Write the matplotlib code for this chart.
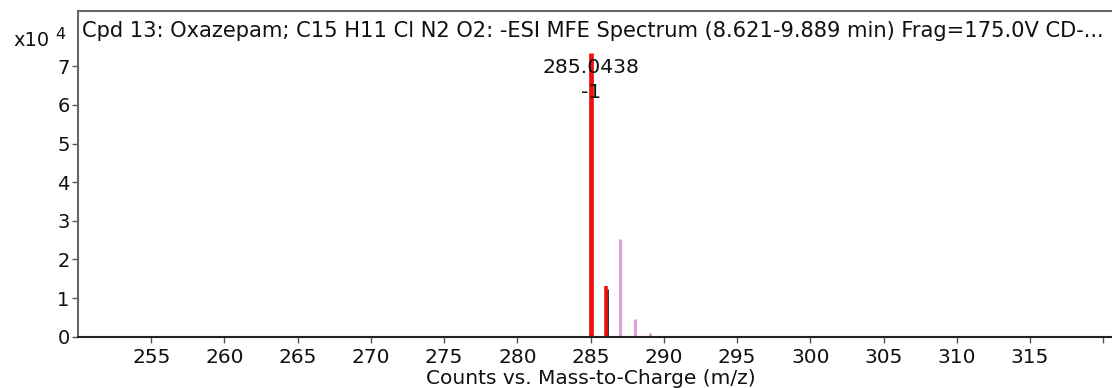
import matplotlib
matplotlib.use("Agg")
import matplotlib.pyplot as plt

# Data (m/z, abundance in units of 1e4)
red_mz = [285.04, 286.04]
red_int = [7.34, 1.30]
black_mz = [286.15]
black_int = [1.23]
pink_mz = [287.03, 288.0, 289.03]
pink_int = [2.53, 0.46, 0.10]

x_ticks = [255, 260, 265, 270, 275, 280, 285, 290, 295, 300, 305, 310, 315, 320]
x_labels = ["255", "260", "265", "270", "275", "280", "285", "290", "295", "300",
            "305", "310", "315", ""]
y_ticks = [0, 1, 2, 3, 4, 5, 6, 7]

title = "Cpd 13: Oxazepam; C15 H11 Cl N2 O2: -ESI MFE Spectrum (8.621-9.889 min) Frag=175.0V CD-..."
peak_label = "285.0438"
peak_charge = "-1"
xlabel = "Counts vs. Mass-to-Charge (m/z)"

plt.rcParams['font.family'] = ['DejaVu Sans']

W, H = 1112, 388
fig = plt.figure(figsize=(W / 100, H / 100), dpi=100)
left, right = 78 / W, 1.0
bottom, top = 1 - 336.7 / H, 1 - 11 / H
ax = fig.add_axes([left, bottom, right - left, top - bottom])

ax.set_xlim(250.0, 320.6)
ax.set_ylim(0, 8.43)

ax.vlines(pink_mz, 0, pink_int, color="#dda0dd", linewidth=2.2)
ax.vlines(black_mz, 0, black_int, color="#222222", linewidth=2.0)
ax.vlines(red_mz[:1], 0, red_int[:1], color="#ee1111", linewidth=3.4)
ax.vlines(red_mz[1:], 0, red_int[1:], color="#ee1111", linewidth=2.6)

ax.set_xticks(x_ticks)
ax.set_xticklabels(x_labels, fontsize=14.5, color="#111111")
ax.set_yticks(y_ticks)
ax.set_yticklabels([str(v) for v in y_ticks], fontsize=14, color="#111111")
ax.tick_params(axis='x', direction='out', length=4, width=1, color="#555555", pad=4)
ax.tick_params(axis='y', direction='out', length=4, width=1, color="#555555", pad=2)

for s in ["top", "left"]:
    ax.spines[s].set_color("#666666")
    ax.spines[s].set_linewidth(1.5)
ax.spines["bottom"].set_color("#222222")
ax.spines["bottom"].set_linewidth(1.5)
ax.spines["right"].set_visible(False)

fig.text(82 / W, 1 - 37 / H, title, fontsize=15.1, ha="left", va="baseline", color="#111111")
fig.text(591 / W, 1 - 73 / H, peak_label, fontsize=14.7, ha="center", va="baseline", color="#111111")
fig.text(591 / W, 1 - 98 / H, peak_charge, fontsize=14.7, ha="center", va="baseline", color="#111111")

fig.text(13 / W, 1 - 46 / H, "x10", fontsize=14, ha="left", va="baseline", color="#111111")
fig.text(55 / W, 1 - 39 / H, "4", fontsize=11.5, ha="left", va="baseline", color="#111111")

fig.text(591 / W, 1 - 387.5 / H, xlabel, fontsize=14.5, ha="center", va="bottom", color="#111111")

fig.savefig("out.png", dpi=100)
